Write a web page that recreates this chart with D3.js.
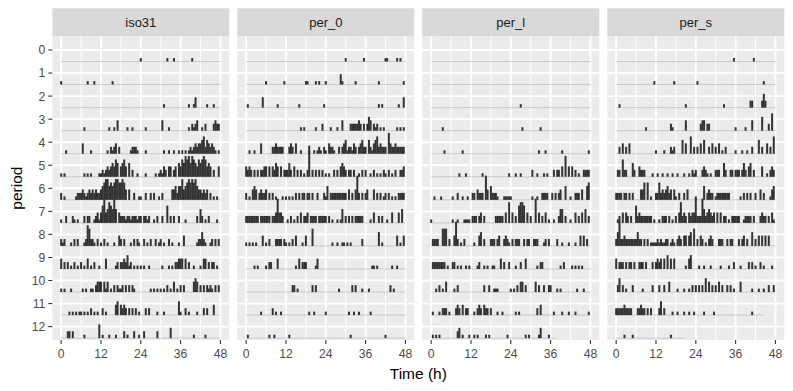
<!DOCTYPE html>
<html>
<head>
<meta charset="utf-8">
<script src="https://cdn.jsdelivr.net/npm/d3@7"></script>
<style>
  body { margin: 0; background: #fff; }
  svg { display: block; font-family: "Liberation Sans", Arial, sans-serif; }
</style>
</head>
<body>
<script>
const panels = ["iso31", "per_0", "per_l", "per_s"];
const periods = d3.range(13);
const xTicks = [0, 12, 24, 36, 48];
const xMinor = [6, 18, 30, 42];

// one string per period: 8 groups of 12 half-hour bins (6 h per group), "." = no activity
const iso31 = [
  "............ ............ ............ ............ 1........... ....1...1... .......1.... ............",
  "1........... ....1...1... .......1.... ............ ............ ............ ............ ............",
  "............ ............ ............ ............ ............ ..1......... .....1..13.. ....1...1...",
  "............ ..1......... .....1..1.3. ....1..1.... ...1........ .3...1...... .....1.2123. .1.2....2322",
  "...1........ .3....1..... ....1.2123.2 ......12221. ...1........ ..1..1..1..1 .1.1.1212323 3452432321.1",
  "1.1......... ..1.1.1....1 12123234354. 3453.4.2..1. ...1.....1.1 2132.33.23.4 354656465435 4565343.2..3",
  "2.1......122 232123232322 345664545665 5653.3..2..1 1..2..2.2..1 .2.....33424 463456565643 32323.2.1.1.",
  "1..2...21.1. ..2.22..1231 3573465474.3 222122122212 2.2212..1.2. .2..5.2.2..2 ...1......2. 42.1.2....1.",
  "212...1.2.2. ..1265221.2. 1.2.1...1..3 2.2...1.2.21 ..2.1.2..2.1 2.1..2.1...1 ..3.......12 2421..12.2.2",
  "3.2.2.1.2.1. 2.1.3.1.2..1 ...3.....12. 2232412.1.1. 1.1..1...... .1...1.1.223 33.3.2..1... 1.33.2.22.1.",
  "1.1...1..... .1.1..11.233 3.313.1.2.21 12.2.2.21... ......1.1.1. 1.1.2.1.3.1. 2.2.....343. 2.2.2121.2.2",
  ".....1.1.1.1 1.1.1.2.1.1. .2.1.....34. 3232.2.2.2.1 ...2.2....1. ..1........4 1..2.1....1. ..2.2...3...",
  "....22.2.... ..1........4 .1...1...1.. ..2.1...2..1 ..2.......2. ......3..... ........1... ...1........"
];
const per0 = [
  "............ ............ ............ ............ ............ 1..........1 ............ 11.....1.1..",
  "............ 1..........1 ............ 11....1.1... 1........31. ......1..... ........1... ...........1",
  ".1........3. .......1.... ........1... ...........1 ............ ............ ........1.1. ........1..3",
  "............ ............ .........1.1 ......1...2. ...1...1..3. ...2222232.2 .243.212.1.1 .......1.1.1",
  "..1..1...3.. ....2232222. ..232.3..1.. ..1..1.121.2 1.3221..2.23 4122132.2342 2.4213452322 2.6322322222",
  "3232.2.2.223 3.3.3243.3.2 2242.3.2.2.1 .29.2.2.2.2. 1.1..2.2.343 2.22.2..1.2. 2..1.2.1.1.2 1.2.1.2..223",
  "2.1.343.2322 3.2.2.1...1. 1.1.1.2.2.22 .22.2..2...2 14.222222222 2.3.2.372.2. 23...3.2.2.1 2.2.1.1.2222",
  "22222222.222 222.2237332. .1.2.1.2.3.2 23.2222.2222 2.2.1..1.14. 2.2.2.22222. ...1.3..2.2. .1..3...3.4.",
  "1.1.1.1...3. 1.2...2222.2 1.1.2.3...1. 3...5....... ....1..1..11 .1.1......2. ........4.1. .......3.1.3",
  ".....1.1.... 1.22...3.... ......1.3.22 2.....13.... ............ ............ ....11.1.... ....1..1....",
  "............ ............ ....22.1.... ....2.2..... ........1... ....2.2...1. ..1......... ...2.1......",
  ".........1.. ....2.1..1.. ............ ..1..1...... 1........... ..1..1..1... ...1........ ............",
  ".1.......... ..1..1...... ..1......... ............ ............ ...1........ ............ 1..........."
];
const perL = [
  "............ ............ ............ ............ ............ ............ ............ ............",
  "............ ............ ............ ............ ............ ............ ............ ............",
  "............ ............ ............ ............ ......1..... ............ ............ ............",
  ".......1.... ............ ............ ............ .......1.... ......1..... ............ ............",
  "........1... .......1.... ............ ............ ............ .....1...1.. .......1.... ...........1",
  "............ .....1...1.. .......1.... ...........1 ...1..1..... .2..1...1.1. ..2.22.3.6.3 .3.2.1..2222",
  "..1...1..... .1..2..1..1. .22.3222.73. 42221...1111 1........... .1..1..2222. .2.2.23..4.. 1..222.3..45",
  "1........... .1..1...1111 .222.23.2... ...22222.3.6 .3.2.5665.3. 2..7.3.2.3.1 ..1..244.2.. 1..3.2.3.4.2",
  ".2222..555.2 ..372.1.2... ..1..34.2... 222.23..2321 .2.222..2.22 ..222...12.2 ....2..1...1 ...1..3.3.2.",
  ".22222222.1. .22.1.1..1.1 ....12..1.1. .11...3.2..2 ...1..2..3.. ....1.22.... ......1.2... .1.1.1.1....",
  "...1.2.1.3.. ..1.2....... ........2..2 ..111....... 1.1.2.33.2.. ...3.2..2..2 2...1.1..... ....1...1...",
  ".1...1.222.1 ...232.3.22. ..1.232.322. 2...1..1.... ...1.1...... ....2.3..... ..1....1...1 ...1.......1",
  ".1.1.1...... ....23.1...1 ..1.1....1.1 ..........1. .........1.1 .....13....1 ............ ............"
];
const perS = [
  "............ ............ ............ ............ ............ ...........1 ...........1 ............",
  "............ ...........1 ...........1 ............ .1.......... ............ ............ .....1......",
  "..1......... ............ ............ ......1..... ............ .....1...... .........22. ....242.....",
  "............ ......1..... .........21. ......3..... ...233.22... ............ 1.....1...3. ....4...2.5.",
  "..2.3.2.3... ............ 1....1...212 ....4.3..5.2 .2.3.4..2.3. 2.3.1.2..... 1...1..1..2. ..4.2..3.2.5",
  ".22.522...42 ..3222....1. .1..1..1..1. .1...1..1.21 2...2321.1.. 222..42..22. 222.242.34.2 ....3..1.232",
  "2222.22.2.2. ...335.5.1.. 2252323423.3 1.2..2.3.... 1....4.2322. 122222222... ...1.2.2.2.. 2..3.2...134",
  ".12.3.32.2.. 5232222222.1 ..1.222.2.1. 2.36232.3233 722274234323 .3.3.22.1.22 222..12222.2 ...2322.2.31",
  "247223222222 2422.2.2.111 12121122.121 .232.33.34.5 .2.32.1.232. ..222..2.22. ..2.23.2..4. 2.3.3.3.3...",
  "3.222.2.22.2 ..222.2...2. 2323.3.4.3.3 ......1.34.. ..1..1...1.. ...1....1..2 ...1....2.2. 1..2.1....1.",
  ".24.2.1...2. ....1.....2. ..2..2..3... .1...1..1.2. 2.2.2.4.3.2. 2.3.2..2.2.1 ...3......1. ..1..1..2..2",
  "2222232222.. .22322.2.2.. ..24.2....1. .1...1..1..1 .....1.....1 ............ ..........1. ............",
  ".....1....1. ............ .........1.. ............ ............ ............ ............ ............"
];

// time (h) at which each period's recording line stops
const iso31End = [48, 48, 48, 48, 48, 48, 48, 48, 48, 48, 48, 48, 48];
const per0End = [48, 48, 48, 48, 48, 48, 48, 48, 48, 48, 48, 48, 48];
const perLEnd = [48, 48, 48, 48, 48, 48, 48, 48, 48, 48, 48, 48, 37.4];
const perSEnd = [48, 48, 48, 48, 48, 48, 48, 48, 48, 48, 48, 44.5, 20.3];

const parseRow = s => s.split(" ")
    .flatMap(g => g.padEnd(12, ".").slice(0, 12).split(""))
    .map(c => c === "." ? 0 : +c);

const series = [
  {name: panels[0], rows: iso31.map(parseRow), ends: iso31End},
  {name: panels[1], rows: per0.map(parseRow), ends: per0End},
  {name: panels[2], rows: perL.map(parseRow), ends: perLEnd},
  {name: panels[3], rows: perS.map(parseRow), ends: perSEnd}
];

const width = 793, height = 391;
const panelLeft = 52.3, panelW = 177, gap = 8;
const stripTop = 8.3, panelTop = 36.3, panelBottom = 340;
const unit = 0.15; // bar height per activity step, in rows
const half = 0.3;   // half of a drawn bar's width, in hours

const x = d3.scaleLinear().domain([-2.675, 50.675]).range([0, panelW]);
const y = d3.scaleLinear().domain([-0.594, 12.58]).range([panelTop, panelBottom]);

const svg = d3.create("svg")
    .attr("width", width)
    .attr("height", height)
    .attr("viewBox", [0, 0, width, height]);

svg.append("rect")
    .attr("width", width)
    .attr("height", height)
    .attr("fill", "#fff");

const panel = svg.selectAll("g.panel")
  .data(series)
  .join("g")
    .attr("class", "panel")
    .attr("transform", (d, i) => `translate(${panelLeft + i * (panelW + gap)},0)`);

panel.append("rect")
    .attr("y", panelTop)
    .attr("width", panelW)
    .attr("height", panelBottom - panelTop)
    .attr("fill", "#ebebeb");

panel.append("g")
    .attr("stroke", "#fff")
    .attr("stroke-width", 0.95)
  .selectAll("line")
  .data(xMinor)
  .join("line")
    .attr("x1", d => x(d))
    .attr("x2", d => x(d))
    .attr("y1", panelTop)
    .attr("y2", panelBottom);

panel.append("g")
    .attr("stroke", "#fff")
    .attr("stroke-width", 1.9)
  .selectAll("line")
  .data(xTicks)
  .join("line")
    .attr("x1", d => x(d))
    .attr("x2", d => x(d))
    .attr("y1", panelTop)
    .attr("y2", panelBottom);

panel.append("g")
    .attr("stroke", "#fff")
    .attr("stroke-width", 1.9)
  .selectAll("line")
  .data(periods)
  .join("line")
    .attr("x1", 0)
    .attr("x2", panelW)
    .attr("y1", d => y(d))
    .attr("y2", d => y(d));

// recording baseline of each period
panel.append("g")
    .attr("stroke", "#c2c2c2")
    .attr("stroke-width", 0.8)
  .selectAll("line")
  .data(d => d.ends.map((e, k) => ({k, e})))
  .join("line")
    .attr("x1", x(0))
    .attr("x2", d => x(d.e))
    .attr("y1", d => y(d.k + 0.5))
    .attr("y2", d => y(d.k + 0.5));

panel.append("g")
    .attr("fill", "#333")
  .selectAll("rect")
  .data(d => d.rows.flatMap((row, k) => row.map((v, i) => ({k, t: i / 2, v})).filter(b => b.v > 0)))
  .join("rect")
    .attr("x", d => x(d.t - half))
    .attr("width", d => x(d.t + half) - x(d.t - half))
    .attr("y", d => y(d.k + 0.5 - d.v * unit))
    .attr("height", d => y(d.k + 0.5) - y(d.k + 0.5 - d.v * unit));

// facet strips
panel.append("rect")
    .attr("y", stripTop)
    .attr("width", panelW)
    .attr("height", panelTop - stripTop)
    .attr("fill", "#d9d9d9");

panel.append("text")
    .attr("x", panelW / 2)
    .attr("y", (stripTop + panelTop) / 2)
    .attr("dy", "0.36em")
    .attr("text-anchor", "middle")
    .attr("font-size", 13)
    .attr("fill", "#1a1a1a")
    .text(d => d.name);

// x axis under each panel
const xAxis = panel.append("g")
  .selectAll("g")
  .data(xTicks)
  .join("g")
    .attr("transform", d => `translate(${x(d)},${panelBottom})`);

xAxis.append("line")
    .attr("y2", 4)
    .attr("stroke", "#333")
    .attr("stroke-width", 1.1);

xAxis.append("text")
    .attr("y", 18)
    .attr("text-anchor", "middle")
    .attr("font-size", 12.2)
    .attr("fill", "#4d4d4d")
    .text(d => d);

// y axis on the left
const yAxis = svg.append("g")
  .selectAll("g")
  .data(periods)
  .join("g")
    .attr("transform", d => `translate(${panelLeft},${y(d)})`);

yAxis.append("line")
    .attr("x1", -4)
    .attr("stroke", "#333")
    .attr("stroke-width", 1.1);

yAxis.append("text")
    .attr("x", -7)
    .attr("dy", "0.36em")
    .attr("text-anchor", "end")
    .attr("font-size", 12.2)
    .attr("fill", "#4d4d4d")
    .text(d => d);

svg.append("text")
    .attr("x", panelLeft + (4 * panelW + 3 * gap) / 2)
    .attr("y", 379)
    .attr("text-anchor", "middle")
    .attr("font-size", 15.5)
    .attr("fill", "#000")
    .text("Time (h)");

svg.append("text")
    .attr("transform", `translate(22,${(panelTop + panelBottom) / 2}) rotate(-90)`)
    .attr("text-anchor", "middle")
    .attr("font-size", 15.5)
    .attr("fill", "#000")
    .text("period");

document.body.appendChild(svg.node());
</script>
</body>
</html>
